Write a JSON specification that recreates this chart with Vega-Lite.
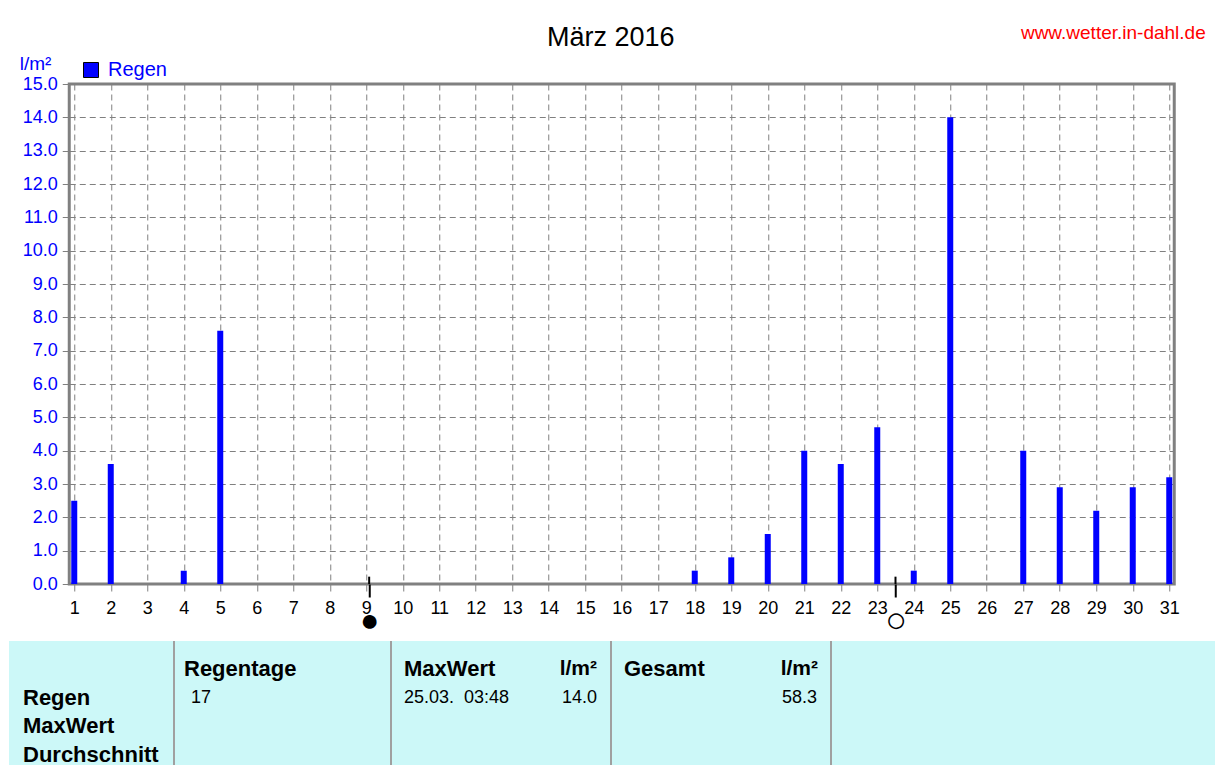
{
  "$schema": "https://vega.github.io/schema/vega-lite/v6.json",
  "background": "white",
  "padding": {"left": 6, "top": 21, "right": 0, "bottom": 0},
  "spacing": 0,
  "center": true,
  "config": {
    "font": "Liberation Sans",
    "view": {"stroke": null}
  },
  "datasets": {
    "rain": [
      {"day": 1, "value": 2.5}, {"day": 2, "value": 3.6}, {"day": 3, "value": 0}, {"day": 4, "value": 0.4},
      {"day": 5, "value": 7.6}, {"day": 6, "value": 0}, {"day": 7, "value": 0}, {"day": 8, "value": 0},
      {"day": 9, "value": 0}, {"day": 10, "value": 0}, {"day": 11, "value": 0}, {"day": 12, "value": 0},
      {"day": 13, "value": 0}, {"day": 14, "value": 0}, {"day": 15, "value": 0}, {"day": 16, "value": 0},
      {"day": 17, "value": 0}, {"day": 18, "value": 0.4}, {"day": 19, "value": 0.8}, {"day": 20, "value": 1.5},
      {"day": 21, "value": 4.0}, {"day": 22, "value": 3.6}, {"day": 23, "value": 4.7}, {"day": 24, "value": 0.4},
      {"day": 25, "value": 14.0}, {"day": 26, "value": 0}, {"day": 27, "value": 4.0}, {"day": 28, "value": 2.9},
      {"day": 29, "value": 2.2}, {"day": 30, "value": 2.9}, {"day": 31, "value": 3.2}
    ],
    "moon": [
      {"day": 9.08, "phase": "Neumond"},
      {"day": 23.5, "phase": "Vollmond"}
    ],
    "table": [
      {"col": "c1", "row": "r1", "kind": "rowlabel", "text": "Regen"},
      {"col": "c1", "row": "r2", "kind": "rowlabel", "text": "MaxWert"},
      {"col": "c1", "row": "r3", "kind": "rowlabel", "text": "Durchschnitt"},
      {"col": "c2", "row": "h", "kind": "header", "text": "Regentage"},
      {"col": "c2", "row": "r1", "kind": "count", "text": "17"},
      {"col": "c3", "row": "h", "kind": "header", "text": "MaxWert"},
      {"col": "c3", "row": "h", "kind": "unit", "text": "l/m²"},
      {"col": "c3", "row": "r1", "kind": "time", "text": "25.03.\u00a0 03:48"},
      {"col": "c3", "row": "r1", "kind": "number", "text": "14.0"},
      {"col": "c4", "row": "h", "kind": "header", "text": "Gesamt"},
      {"col": "c4", "row": "h", "kind": "unit", "text": "l/m²"},
      {"col": "c4", "row": "r1", "kind": "number", "text": "58.3"}
    ]
  },
  "vconcat": [
    {
      "width": 1105,
      "height": 500,
      "title": {"text": "März 2016", "fontSize": 27, "fontWeight": "normal", "color": "black", "anchor": "middle", "dx": -11, "offset": -50, "baseline": "alphabetic"},
      "view": {"stroke": "#808080", "strokeWidth": 3},
      "resolve": {"axis": {"x": "independent", "y": "independent"}},
      "layer": [
        {
          "data": {"name": "rain"},
          "mark": {"type": "bar", "size": 6, "clip": true},
          "encoding": {
            "x": {
              "field": "day", "type": "quantitative",
              "scale": {"domain": [1, 31], "nice": false, "zero": false},
              "axis": {
                "values": [1,2,3,4,5,6,7,8,9,10,11,12,13,14,15,16,17,18,19,20,21,22,23,24,25,26,27,28,29,30,31],
                "format": "d", "labelColor": "black", "labelFontSize": 18, "labelFlush": false, "labelOverlap": false,
                "tickSize": 7, "tickColor": "#808080", "labelPadding": 8,
                "grid": true, "gridColor": "#808080", "gridDash": [6, 4],
                "domain": false, "title": null
              }
            },
            "y": {
              "field": "value", "type": "quantitative",
              "scale": {"domain": [0, 15], "nice": false},
              "axis": {
                "values": [0,1,2,3,4,5,6,7,8,9,10,11,12,13,14,15],
                "format": ".1f", "labelColor": "#0000ff", "labelFontSize": 18, "labelOverlap": false, "labelFlush": false,
                "tickSize": 7, "tickColor": "#808080", "labelPadding": 5,
                "grid": true, "gridColor": "#808080", "gridDash": [6, 4],
                "domain": false, "minExtent": 61, "maxExtent": 61,
                "title": "l/m²", "titleAngle": 0, "titleX": -50, "titleY": -15, "titleAlign": "left",
                "titleBaseline": "alphabetic", "titleColor": "#0000ff", "titleFontSize": 19, "titleFontWeight": "normal"
              }
            },
            "color": {
              "datum": "Regen", "type": "nominal",
              "scale": {"range": ["#0000ff"]},
              "legend": {
                "orient": "none", "legendX": 72, "legendY": -24, "title": null,
                "symbolType": "square", "symbolSize": 225, "symbolStrokeColor": "black", "symbolStrokeWidth": 1,
                "labelColor": "#0000ff", "labelFontSize": 20, "labelOffset": 7, "padding": 0
              }
            }
          }
        },
        {
          "data": {"name": "moon"},
          "mark": {"type": "rule", "color": "black", "strokeWidth": 2},
          "encoding": {
            "x": {
              "field": "day", "type": "quantitative",
              "axis": {
                "orient": "bottom", "values": [9.08, 23.5],
                "labelExpr": "datum.value < 15 ? '●' : '○'",
                "labelFontSize": {"condition": {"test": "datum.value < 15", "value": 32}, "value": 36},
                "labelColor": "black", "labelBaseline": "middle", "labelPadding": 23, "labelFlush": false,
                "tickSize": 13, "tickColor": "black", "tickWidth": 2,
                "grid": false, "domain": false,
                "title": "www.wetter.in-dahl.de", "titleX": 1136, "titleY": -546, "titleAngle": 0,
                "titleAlign": "right", "titleBaseline": "alphabetic", "titleColor": "#ff0000",
                "titleFontSize": 19, "titleFontWeight": "normal"
              }
            },
            "y": {"datum": 0, "axis": null},
            "y2": {"datum": 0.22}
          }
        }
      ]
    },
    {
      "spacing": 0,
      "hconcat": [
        {
          "width": 164, "height": 142,
          "view": {"fill": "#ccf8f8", "stroke": null},
          "data": {"name": "table"},
          "transform": [{"filter": "datum.col == 'c1'"}],
          "mark": {"type": "text", "align": "left", "baseline": "middle", "dx": 14, "fontSize": 22, "fontWeight": "bold", "color": "black"},
          "encoding": {
            "x": {"datum": "left", "type": "nominal", "scale": {"type": "point", "domain": ["left", "right"], "padding": 0}, "axis": null},
            "y": {"field": "row", "type": "ordinal", "scale": {"type": "point", "domain": ["h", "r1", "r2", "r3"], "padding": 1}, "axis": null},
            "text": {"field": "text"}
          }
        },
        {
          "width": 216, "height": 142,
          "view": {"fill": "#ccf8f8", "stroke": null},
          "layer": [
            {
              "data": {"values": [{}]},
              "mark": {"type": "rule", "color": "#a0a0a0", "strokeWidth": 2},
              "encoding": {"x": {"datum": "left", "type": "nominal", "scale": {"type": "point", "domain": ["left", "right"], "padding": 0}, "axis": null}}
            },
            {
              "data": {"name": "table"},
              "transform": [{"filter": "datum.col == 'c2' && datum.kind == 'header'"}],
              "mark": {"type": "text", "align": "left", "baseline": "middle", "dx": 10, "fontSize": 22, "fontWeight": "bold", "color": "black"},
              "encoding": {
                "x": {"datum": "left", "type": "nominal"},
                "y": {"field": "row", "type": "ordinal", "scale": {"type": "point", "domain": ["h", "r1", "r2", "r3"], "padding": 1}, "axis": null},
                "text": {"field": "text"}
              }
            },
            {
              "data": {"name": "table"},
              "transform": [{"filter": "datum.col == 'c2' && datum.kind == 'count'"}],
              "mark": {"type": "text", "align": "left", "baseline": "middle", "dx": 17, "fontSize": 18, "color": "black"},
              "encoding": {
                "x": {"datum": "left", "type": "nominal"},
                "y": {"field": "row", "type": "ordinal"},
                "text": {"field": "text"}
              }
            }
          ]
        },
        {
          "width": 219, "height": 142,
          "view": {"fill": "#ccf8f8", "stroke": null},
          "layer": [
            {
              "data": {"values": [{}]},
              "mark": {"type": "rule", "color": "#a0a0a0", "strokeWidth": 2},
              "encoding": {"x": {"datum": "left", "type": "nominal", "scale": {"type": "point", "domain": ["left", "right"], "padding": 0}, "axis": null}}
            },
            {
              "data": {"name": "table"},
              "transform": [{"filter": "datum.col == 'c3' && datum.kind == 'header'"}],
              "mark": {"type": "text", "align": "left", "baseline": "middle", "dx": 13, "fontSize": 22, "fontWeight": "bold", "color": "black"},
              "encoding": {
                "x": {"datum": "left", "type": "nominal"},
                "y": {"field": "row", "type": "ordinal", "scale": {"type": "point", "domain": ["h", "r1", "r2", "r3"], "padding": 1}, "axis": null},
                "text": {"field": "text"}
              }
            },
            {
              "data": {"name": "table"},
              "transform": [{"filter": "datum.col == 'c3' && datum.kind == 'unit'"}],
              "mark": {"type": "text", "align": "right", "baseline": "middle", "dx": -13, "fontSize": 21, "fontWeight": "bold", "color": "black"},
              "encoding": {
                "x": {"datum": "right", "type": "nominal"},
                "y": {"field": "row", "type": "ordinal"},
                "text": {"field": "text"}
              }
            },
            {
              "data": {"name": "table"},
              "transform": [{"filter": "datum.col == 'c3' && datum.kind == 'time'"}],
              "mark": {"type": "text", "align": "left", "baseline": "middle", "dx": 13, "fontSize": 18, "color": "black"},
              "encoding": {
                "x": {"datum": "left", "type": "nominal"},
                "y": {"field": "row", "type": "ordinal"},
                "text": {"field": "text"}
              }
            },
            {
              "data": {"name": "table"},
              "transform": [{"filter": "datum.col == 'c3' && datum.kind == 'number'"}],
              "mark": {"type": "text", "align": "right", "baseline": "middle", "dx": -13, "fontSize": 18, "color": "black"},
              "encoding": {
                "x": {"datum": "right", "type": "nominal"},
                "y": {"field": "row", "type": "ordinal"},
                "text": {"field": "text"}
              }
            }
          ]
        },
        {
          "width": 219, "height": 142,
          "view": {"fill": "#ccf8f8", "stroke": null},
          "layer": [
            {
              "data": {"values": [{}]},
              "mark": {"type": "rule", "color": "#a0a0a0", "strokeWidth": 2},
              "encoding": {"x": {"datum": "left", "type": "nominal", "scale": {"type": "point", "domain": ["left", "right"], "padding": 0}, "axis": null}}
            },
            {
              "data": {"name": "table"},
              "transform": [{"filter": "datum.col == 'c4' && datum.kind == 'header'"}],
              "mark": {"type": "text", "align": "left", "baseline": "middle", "dx": 13, "fontSize": 22, "fontWeight": "bold", "color": "black"},
              "encoding": {
                "x": {"datum": "left", "type": "nominal"},
                "y": {"field": "row", "type": "ordinal", "scale": {"type": "point", "domain": ["h", "r1", "r2", "r3"], "padding": 1}, "axis": null},
                "text": {"field": "text"}
              }
            },
            {
              "data": {"name": "table"},
              "transform": [{"filter": "datum.col == 'c4' && datum.kind == 'unit'"}],
              "mark": {"type": "text", "align": "right", "baseline": "middle", "dx": -12, "fontSize": 21, "fontWeight": "bold", "color": "black"},
              "encoding": {
                "x": {"datum": "right", "type": "nominal"},
                "y": {"field": "row", "type": "ordinal"},
                "text": {"field": "text"}
              }
            },
            {
              "data": {"name": "table"},
              "transform": [{"filter": "datum.col == 'c4' && datum.kind == 'number'"}],
              "mark": {"type": "text", "align": "right", "baseline": "middle", "dx": -13, "fontSize": 18, "color": "black"},
              "encoding": {
                "x": {"datum": "right", "type": "nominal"},
                "y": {"field": "row", "type": "ordinal"},
                "text": {"field": "text"}
              }
            }
          ]
        },
        {
          "width": 436, "height": 142,
          "view": {"fill": "#ccf8f8", "stroke": null},
          "data": {"values": [{}]},
          "mark": {"type": "rule", "color": "#a0a0a0", "strokeWidth": 2},
          "encoding": {"x": {"datum": "left", "type": "nominal", "scale": {"type": "point", "domain": ["left", "right"], "padding": 0}, "axis": null}}
        }
      ]
    }
  ]
}
